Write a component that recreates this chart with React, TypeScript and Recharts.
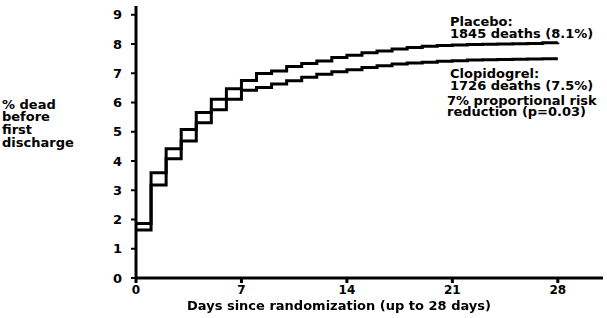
import { LineChart, Line, XAxis, YAxis } from "recharts";

const days = [0, 1, 2, 3, 4, 5, 6, 7, 8, 9, 10, 11, 12, 13, 14, 15, 16, 17, 18, 19, 20, 21, 22, 23, 24, 25, 26, 27, 28];
const placebo = [1.86, 3.6, 4.42, 5.08, 5.66, 6.11, 6.47, 6.75, 6.99, 7.08, 7.23, 7.33, 7.42, 7.54, 7.62, 7.7, 7.76, 7.83, 7.88, 7.92, 7.95, 7.97, 7.98, 7.99, 8.0, 8.01, 8.02, 8.04, 8.05];
const clopidogrel = [1.64, 3.18, 4.08, 4.68, 5.31, 5.75, 6.11, 6.42, 6.51, 6.63, 6.74, 6.86, 6.97, 7.05, 7.12, 7.2, 7.26, 7.32, 7.35, 7.38, 7.41, 7.43, 7.45, 7.46, 7.47, 7.48, 7.49, 7.5, 7.5];
const xTicks = [0, 7, 14, 21, 28];
const yTicks = [0, 1, 2, 3, 4, 5, 6, 7, 8, 9];
const yLabel = ["% dead", "before", "first", "discharge"];

const data = days.map((d, i) => ({ day: d, placebo: placebo[i], clopidogrel: clopidogrel[i] }));

const font = "'DejaVu Sans', Arial, sans-serif";
const txt = { fontFamily: font, fontWeight: 700, fontSize: 13, color: "#000", whiteSpace: "pre" as const, position: "absolute" as const };

export default function App() {
  return (
    <div style={{ position: "fixed", left: 0, top: 0, width: 607, height: 318, background: "#fff" }}>
      <LineChart width={607} height={318} data={data} margin={{ top: 6, right: 4, bottom: 10, left: 96 }}>
        <XAxis
          dataKey="day"
          type="number"
          domain={[0, 31]}
          ticks={xTicks}
          interval={0}
          tickSize={5}
          tickMargin={2}
          height={30}
          axisLine={{ stroke: "#000", strokeWidth: 3 }}
          tickLine={{ stroke: "#000", strokeWidth: 3 }}
          tick={{ fill: "#000", fontFamily: font, fontWeight: 700, fontSize: 12 }}
        />
        <YAxis
          type="number"
          domain={[0, 9.3]}
          ticks={yTicks}
          interval={0}
          width={40}
          tickSize={5}
          tickMargin={9}
          axisLine={{ stroke: "#000", strokeWidth: 3 }}
          tickLine={{ stroke: "#000", strokeWidth: 2 }}
          tick={{ fill: "#000", fontFamily: font, fontWeight: 700, fontSize: 13 }}
        />
        <Line type="stepAfter" dataKey="placebo" stroke="#000" strokeWidth={3} dot={false} isAnimationActive={false} />
        <Line type="stepAfter" dataKey="clopidogrel" stroke="#000" strokeWidth={3} dot={false} isAnimationActive={false} />
      </LineChart>

      <div style={{ ...txt, left: 2, top: 98.6, lineHeight: "12.7px" }}>{yLabel.join("\n")}</div>
      <div style={{ ...txt, left: 450, top: 16, lineHeight: "11.6px" }}>{"Placebo:\n1845 deaths (8.1%)"}</div>
      <div style={{ ...txt, left: 450, top: 67.6, lineHeight: "12.7px" }}>{"Clopidogrel:\n1726 deaths (7.5%)"}</div>
      <div style={{ ...txt, left: 447, top: 95.2, lineHeight: "11px" }}>{"7% proportional risk\nreduction (p=0.03)"}</div>
      <div style={{ ...txt, left: 0, width: 678, textAlign: "center", top: 301, lineHeight: "10px" }}>
        Days since randomization (up to 28 days)
      </div>
    </div>
  );
}
